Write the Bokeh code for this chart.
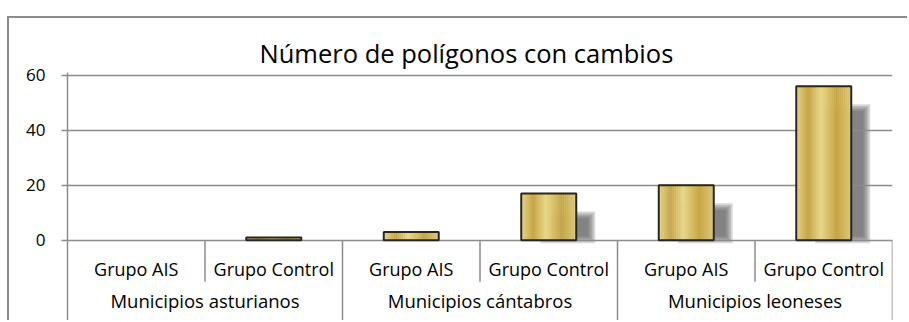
import numpy as np
from bokeh.plotting import figure
from bokeh.models import FactorRange, Range1d, FixedTicker
from bokeh.core.properties import value
from bokeh.embed import file_html
from bokeh.resources import INLINE

# ---- data ----
groups = ["Municipios asturianos", "Municipios cántabros", "Municipios leoneses"]
subgroups = ["Grupo AIS", "Grupo Control"]
values = [0, 1, 3, 17, 20, 56]
y_ticks = [0, 20, 40, 60]
title_text = "Número de polígonos con cambios"

factors = [(g, s) for g in groups for s in subgroups]

# ---- style ----
FONT = "Open Sans"
GRAY = "#8c8c8c"
W, H = 900, 304
MB_L, MB_R, MB_T, MB_B = 58, 17, 54, 0
PX_PER_UNIT = 2.75
Y_END = 61
BAR_W = 0.4

frame_w = W - MB_L - MB_R
frame_h = H - MB_T - MB_B
Y_START = Y_END - frame_h / PX_PER_UNIT
px_x = frame_w / len(factors)          # px per category
px_y = PX_PER_UNIT                     # px per data unit

p = figure(
    x_range=FactorRange(*factors, factor_padding=0, group_padding=0,
                        subgroup_padding=0, range_padding=0),
    y_range=Range1d(Y_START, Y_END),
    width=W, height=H, output_backend="svg", toolbar_location=None,
    min_border_left=MB_L, min_border_right=MB_R,
    min_border_top=MB_T, min_border_bottom=MB_B,
)
p.margin = (16, 0, 0, 7)
p.styles = {"border-left": "2px solid #8c8c8c", "border-top": "2px solid #8c8c8c"}
p.outline_line_color = None
p.background_fill_color = "white"
p.border_fill_color = "white"

p.title.text = title_text
p.title.text_font = FONT
p.title.text_font_size = "25.5px"
p.title.text_font_style = "normal"
p.title.align = "left"
p.title.offset = 192
p.title.standoff = 5
p.title.text_color = "black"

p.xaxis.visible = False
p.xgrid.visible = False

ax = p.yaxis[0]
ax.ticker = FixedTicker(ticks=y_ticks)
ax.axis_line_color = GRAY
ax.axis_line_width = 1.5
ax.major_tick_line_color = GRAY
ax.major_tick_line_width = 1.5
ax.major_tick_out = 6
ax.major_tick_in = 0
ax.minor_tick_line_color = None
ax.major_label_standoff = 16
ax.major_label_text_font = FONT
ax.major_label_text_font_size = "17px"
ax.major_label_text_color = "black"

p.ygrid.ticker = FixedTicker(ticks=y_ticks)
p.ygrid.grid_line_color = GRAY
p.ygrid.grid_line_width = 1.5

# ---- shadows (blurred, offset down-right) ----
dx = 19 / px_x
dy_top = 18 / px_y
dy_bot = 3 / px_y
for k in range(5):
    ix = k * 1.7 / px_x
    iy = k * 1.7 / px_y
    xs, tops, bots, ws = [], [], [], []
    for (g, s), v in zip(factors, values):
        top = v - dy_top - iy
        bot = -dy_bot + iy
        if v > 0 and top > bot:
            xs.append((g, s, dx))
            tops.append(top)
            bots.append(bot)
            ws.append(BAR_W - 2 * ix)
    if xs:
        r = p.vbar(x=xs, top=tops, bottom=bots, width=ws, fill_color="#555555",
                   fill_alpha=0.23, line_color=None)
        r.level = "image"

# ---- gold gradient bars (vertical stripes) ----
stops_pos = [0.0, 0.22, 0.45, 0.74, 1.0]
stops_col = np.array([[0xe6, 0xd5, 0x8e], [0xc6, 0xa5, 0x45], [0xe8, 0xd8, 0x8a],
                      [0xc7, 0xa6, 0x46], [0xde, 0xc9, 0x7a]], dtype=float)
N = 28
sw = BAR_W / N
sx, stop, scol = [], [], []
for (g, s), v in zip(factors, values):
    if v <= 0:
        continue
    for i in range(N):
        t = (i + 0.5) / N
        c = [np.interp(t, stops_pos, stops_col[:, j]) for j in range(3)]
        sx.append((g, s, -BAR_W / 2 + (i + 0.5) * sw))
        stop.append(v)
        scol.append("#%02x%02x%02x" % tuple(int(round(a)) for a in c))
p.vbar(x=sx, top=stop, bottom=0, width=sw * 1.25, fill_color=scol, line_color=None)

bx = [f for f, v in zip(factors, values) if v > 0]
bv = [v for v in values if v > 0]
p.vbar(x=bx, top=bv, bottom=0, width=BAR_W, fill_color=None,
       line_color="#262626", line_width=2)

# ---- category separators ----
inner_x = [(g, subgroups[0], 0.5) for g in groups]
outer_x = [(g, subgroups[-1], 0.5) for g in groups]
lab1_y = -28.5 / px_y
lab2_y = -60 / px_y
inner_bot = -41.5 / px_y
p.segment(x0=inner_x, y0=[0] * len(inner_x), x1=inner_x, y1=[inner_bot] * len(inner_x),
          line_color=GRAY, line_width=1.5)
p.segment(x0=outer_x, y0=[0] * len(outer_x), x1=outer_x, y1=[Y_START] * len(outer_x),
          line_color=GRAY, line_width=1.5)

# ---- category labels ----
p.text(x=factors, y=[lab1_y] * len(factors), text=[s for g, s in factors],
       text_font=value(FONT), text_font_size="18px", text_align="center",
       text_baseline="middle", text_color="black")
p.text(x=groups, y=[lab2_y] * len(groups), text=groups,
       text_font=value(FONT), text_font_size="18.5px", text_align="center",
       text_baseline="middle", text_color="black")

open("out.html", "w").write(file_html(p, INLINE))
